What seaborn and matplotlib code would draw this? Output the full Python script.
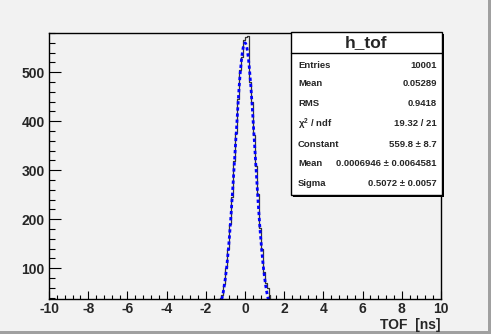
import numpy as np
import pandas as pd
import matplotlib
matplotlib.use("Agg")
import matplotlib.pyplot as plt
from matplotlib.patches import Rectangle
from matplotlib.ticker import MultipleLocator
import seaborn as sns

# ---- data ----
bin_centers = [-1.45, -1.35, -1.25, -1.15, -1.05, -0.95, -0.85, -0.75, -0.65, -0.55,
               -0.45, -0.35, -0.25, -0.15, -0.05, 0.05, 0.15, 0.25, 0.35, 0.45,
               0.55, 0.65, 0.75, 0.85, 0.95, 1.05, 1.15, 1.25, 1.35, 1.45]
bin_counts = [30, 38, 40, 45, 68, 100, 140, 190, 245, 318,
              375, 445, 505, 530, 565, 572, 574, 480, 440, 372,
              308, 252, 182, 140, 93, 70, 59, 45, 30, 12]
bin_width = 0.1
fit_constant = 559.8
fit_mean = 0.0006946
fit_sigma = 0.5072
x_ticks = [-10, -8, -6, -4, -2, 0, 2, 4, 6, 8, 10]
y_ticks = [100, 200, 300, 400, 500]

stat_names = ["Entries", "Mean", "RMS", "\u03c7$^{2}$ / ndf", "Constant", "Mean", "Sigma"]
stat_values = ["10001", "0.05289", "0.9418", "19.32 / 21", "559.8 \u00b1 8.7",
               "0.0006946 \u00b1 0.0064581", "0.5072 \u00b1 0.0057"]

sns.set_style("ticks")
plt.rcParams["font.family"] = ["Liberation Sans", "DejaVu Sans"]
plt.rcParams["mathtext.fontset"] = "custom"
plt.rcParams["mathtext.rm"] = "Liberation Sans:bold"
plt.rcParams["mathtext.default"] = "rm"
plt.rcParams["axes.unicode_minus"] = False

bg = "#f2f2f2"
fig = plt.figure(figsize=(4.91, 3.34), dpi=100, facecolor=bg)
ax = fig.add_axes([49/491, 1-299/334, 392/491, 266/334])
ax.set_facecolor(bg)

df = pd.DataFrame({"tof": bin_centers, "count": bin_counts})
lo = bin_centers[0] - bin_width / 2
hi = bin_centers[-1] + bin_width / 2
sns.histplot(data=df, x="tof", weights="count", binwidth=bin_width, binrange=(lo, hi),
             element="step", fill=False, color="#333333", linewidth=0.9, ax=ax)

xf = np.linspace(-1.6, 1.6, 300)
yf = fit_constant * np.exp(-0.5 * ((xf - fit_mean) / fit_sigma) ** 2)
ax.plot(xf, yf, color="#0000ff", linewidth=2.0, linestyle=(0, (1.2, 1.0)))

ax.set_xlim(-10, 10)
ax.set_ylim(37, 580)
ax.set_xticks(x_ticks)
ax.set_yticks(y_ticks)
ax.xaxis.set_minor_locator(MultipleLocator(0.4))
ax.yaxis.set_minor_locator(MultipleLocator(20))
ax.tick_params(axis="both", which="both", direction="in", top=False, right=False, width=0.8, color="black")
ax.tick_params(axis="x", which="major", length=6, labelsize=10, pad=2)
ax.tick_params(axis="x", which="minor", length=3)
ax.tick_params(axis="y", which="major", length=8.5, labelsize=10, pad=3)
ax.tick_params(axis="y", which="minor", length=4.3)
for lab in ax.get_xticklabels() + ax.get_yticklabels():
    lab.set_fontweight("bold")
ax.set_ylabel("")
ax.set_xlabel("")
for s in ax.spines.values():
    s.set_color("black")
    s.set_linewidth(1.0)
    s.set_visible(True)

fig.text(441/491, 1-325/334, "TOF  [ns]", ha="right", va="center", fontsize=10, fontweight="bold")

# stats box
bx0, bx1 = 291/491, 442/491
by0, by1 = 1-195/334, 1-32/334
fig.patches.append(Rectangle((bx0 + 2/491, by0 - 2/334), bx1 - bx0, by1 - by0, transform=fig.transFigure,
                             facecolor="black", edgecolor="none", zorder=5))
fig.patches.append(Rectangle((bx0, by0), bx1 - bx0, by1 - by0, transform=fig.transFigure,
                             facecolor="white", edgecolor="black", linewidth=1.0, zorder=6))
fig.lines.append(plt.Line2D([bx0, bx1], [1-53/334, 1-53/334], transform=fig.transFigure,
                            color="black", linewidth=1.0, zorder=7))
fig.text((bx0+bx1)/2, 1-43/334, "h_tof", ha="center", va="center", fontsize=12.5,
         fontweight="bold", zorder=8)
row_y = [65, 84, 104, 124, 144, 164, 184]
for name, val, yy in zip(stat_names, stat_values, row_y):
    fig.text(298/491, 1-yy/334, name, ha="left", va="center", fontsize=6.8, fontweight="bold", zorder=8)
    fig.text(437/491, 1-yy/334, val, ha="right", va="center", fontsize=6.8, fontweight="bold", zorder=8)

# canvas bevel
fig.patches.append(Rectangle((0, 0), 1, 3/334, transform=fig.transFigure, facecolor="#a0a0a0",
                             edgecolor="none", zorder=1))
fig.patches.append(Rectangle((1-3/491, 0), 3/491, 1, transform=fig.transFigure, facecolor="#a0a0a0",
                             edgecolor="none", zorder=1))

fig.savefig("out.png", dpi=100, facecolor=bg)
